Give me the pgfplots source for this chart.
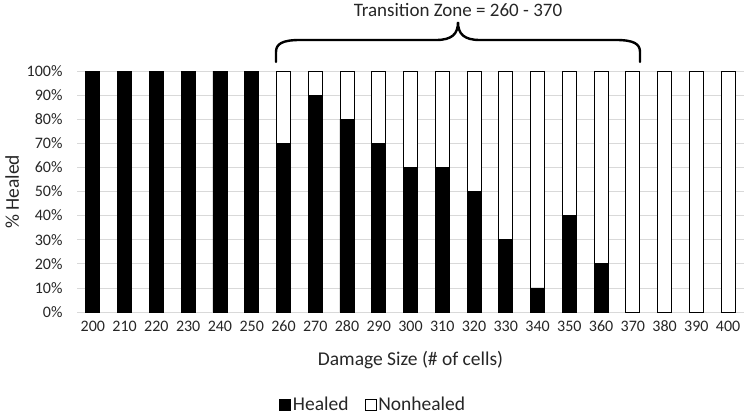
\documentclass[border=0pt]{standalone}
\usepackage{fontspec}
\setmainfont{Carlito}
\usepackage{pgfplots}
\pgfplotsset{compat=1.18}
\definecolor{gridgray}{HTML}{D9D9D9}

\begin{document}
\begin{tikzpicture}
\begin{axis}[
  at={(77pt,104pt)}, anchor=south west,
  scale only axis, width=667pt, height=241pt,
  ybar stacked, bar width=14pt,
  xmin=-0.5, xmax=20.5, ymin=0, ymax=100,
  xtick=data,
  xticklabels={200,210,220,230,240,250,260,270,280,290,300,310,320,330,340,350,360,370,380,390,400},
  ytick={0,10,...,100},
  yticklabel={\pgfmathprintnumber{\tick}\%},
  /pgf/number format/assume math mode=true,
  tick label style={font=\fontsize{16}{18}\selectfont, text=black!85},
  xticklabel style={text height=1.5ex, text depth=0.2ex, yshift=-9pt},
  yticklabel style={xshift=-11pt},
  major tick length=0pt,
  ymajorgrids, grid style={gridgray, line width=0.8pt},
  axis x line*=bottom, axis y line*=left,
  x axis line style={gridgray, line width=0.8pt, -},
  y axis line style={draw=none},
  xlabel={Damage Size (\# of cells)},
  ylabel={\% Healed},
  label style={font=\fontsize{19.5}{22}\selectfont, text=black!85},
  xlabel style={at={(axis description cs:0.5,-0.199)}, anchor=center},
  ylabel style={at={(axis description cs:-0.097,0.498)}, anchor=center},
  legend style={at={(axis description cs:0.444,-0.384)}, anchor=center, draw=none,
    font=\fontsize{19.5}{22}\selectfont, text=black!85, legend columns=2,
    /tikz/every even column/.append style={column sep=14pt}},
  legend image code/.code={\draw[#1, line width=0.8pt] (0pt,-5.5pt) rectangle (11pt,5.5pt);},
]
\addplot[fill=black, draw=black, line width=0.8pt] coordinates {
(0,100) (1,100) (2,100) (3,100) (4,100) (5,100) (6,70) (7,90) (8,80) (9,70) (10,60)
(11,60) (12,50) (13,30) (14,10) (15,40) (16,20) (17,0) (18,0) (19,0) (20,0)};
\addplot[fill=white, draw=black, line width=0.8pt] coordinates {
(0,0) (1,0) (2,0) (3,0) (4,0) (5,0) (6,30) (7,10) (8,20) (9,30) (10,40)
(11,40) (12,50) (13,70) (14,90) (15,60) (16,80) (17,100) (18,100) (19,100) (20,100)};
\legend{Healed, Nonhealed}
\end{axis}
% brace over the transition zone
\draw[line width=2.4pt, line cap=round]
  (276pt,354pt) -- (276pt,364pt) .. controls (276pt,372pt) and (282pt,376pt) .. (300pt,376pt)
  -- (436pt,376pt) .. controls (452pt,376pt) and (458pt,382pt) .. (458pt,394pt)
  .. controls (458pt,382pt) and (464pt,376pt) .. (480pt,376pt)
  -- (616pt,376pt) .. controls (634pt,376pt) and (640pt,372pt) .. (640pt,364pt) -- (640pt,354pt);
\node[font=\fontsize{19}{22}\selectfont, text=black!85] at (458pt,406pt) {Transition Zone = 260 - 370};
\pgfresetboundingbox
\path[use as bounding box] (0pt,0pt) rectangle (746pt,416pt);
\end{tikzpicture}
\end{document}
